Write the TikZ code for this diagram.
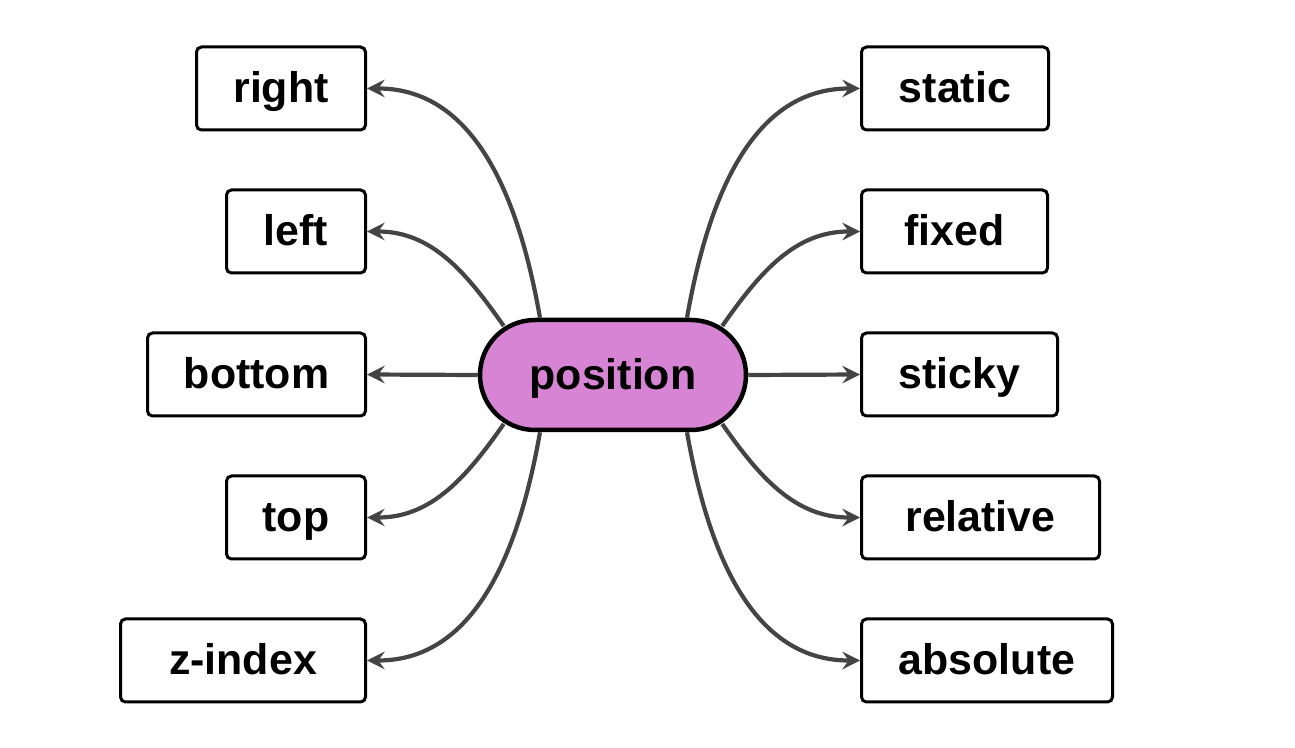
\documentclass[tikz,border=0pt]{standalone}
\usepackage{fontspec}
\setmainfont{Liberation Sans}
\usepackage{tikz}
\usetikzlibrary{arrows,shapes,positioning}
\usepackage{xcolor}
\definecolor{posorchid}{RGB}{216,132,212}
\definecolor{linkgray}{RGB}{68,68,68}
\tikzstyle{link} = [line width=0.042cm,->,>=stealth,color=linkgray]
\tikzstyle{propbox} = [rectangle, rounded corners=0.05cm, minimum height=0.83cm, text height=0.86em, text depth=0.06em, text centered, draw=black, fill=white, line width=0.03cm, font=\bfseries\fontsize{12.2pt}{14pt}\selectfont]
\tikzstyle{pill} = [rectangle, rounded corners=0.55cm, minimum width=2.66cm, minimum height=1.1cm, text height=0.86em, text depth=0.06em, text centered, draw=black, fill=posorchid, line width=0.045cm, font=\bfseries\fontsize{12.2pt}{14pt}\selectfont]

\begin{document}
\begin{tikzpicture}
\useasboundingbox (0,0) rectangle (12.95,7.47);

\node[pill] (pos) at (6.13,3.72) {position};

% right column
\node[propbox, minimum width=1.87cm, anchor=west] (static) at (8.60,6.585) {static};
\node[propbox, minimum width=1.86cm, anchor=west] (fixed) at (8.60,5.155) {fixed};
\node[propbox, minimum width=1.96cm, anchor=west] (sticky) at (8.60,3.725) {sticky};
\node[propbox, minimum width=2.38cm, anchor=west] (relative) at (8.60,2.295) {relative};
\node[propbox, minimum width=2.51cm, anchor=west] (absolute) at (8.60,0.865) {absolute};

% left column
\node[propbox, minimum width=1.69cm, anchor=east] (right) at (3.67,6.585) {right};
\node[propbox, minimum width=1.39cm, anchor=east] (left) at (3.67,5.155) {left};
\node[propbox, minimum width=2.18cm, anchor=east] (bottom) at (3.67,3.725) {bottom};
\node[propbox, minimum width=1.39cm, anchor=east] (top) at (3.67,2.295) {top};
\node[propbox, minimum width=2.45cm, anchor=east] (zindex) at (3.67,0.865) {z-index};

\draw[link] ([xshift=0.74cm]pos.north) to[out=80,in=180] (static.west);
\draw[link] ([xshift=-0.26cm,yshift=0.49cm]pos.east) to[out=55,in=180] (fixed.west);
\draw[link] (pos.east) -- (sticky.west);
\draw[link] ([xshift=-0.26cm,yshift=-0.49cm]pos.east) to[out=-55,in=180] (relative.west);
\draw[link] ([xshift=0.74cm]pos.south) to[out=-80,in=180] (absolute.west);

\draw[link] ([xshift=-0.73cm]pos.north) to[out=100,in=0] (right.east);
\draw[link] ([xshift=0.26cm,yshift=0.49cm]pos.west) to[out=125,in=0] (left.east);
\draw[link] (pos.west) -- (bottom.east);
\draw[link] ([xshift=0.26cm,yshift=-0.49cm]pos.west) to[out=-125,in=0] (top.east);
\draw[link] ([xshift=-0.73cm]pos.south) to[out=-100,in=0] (zindex.east);
\end{tikzpicture}
\end{document}
